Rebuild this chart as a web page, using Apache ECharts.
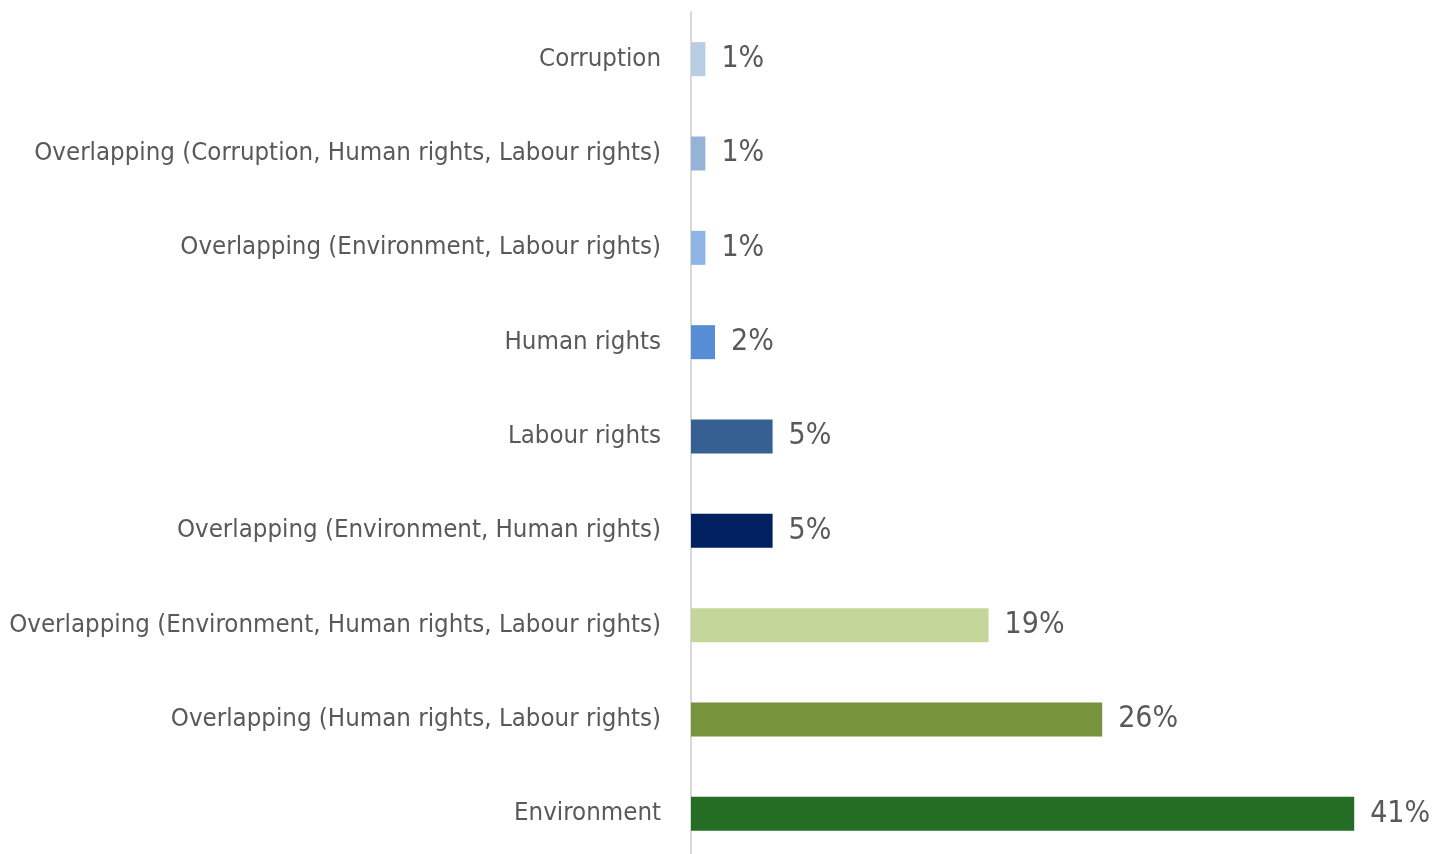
<!DOCTYPE html>
<html>
<head>
<meta charset="utf-8">
<script src="https://cdn.jsdelivr.net/npm/echarts@6/dist/echarts.min.js"></script>
<style>
html,body{margin:0;padding:0;background:#fff;}
#chart{width:1448px;height:854px;}
</style>
</head>
<body>
<div id="chart"></div>
<script>
const categories = [
  "Corruption",
  "Overlapping (Corruption, Human rights, Labour rights)",
  "Overlapping (Environment, Labour rights)",
  "Human rights",
  "Labour rights",
  "Overlapping (Environment, Human rights)",
  "Overlapping (Environment, Human rights, Labour rights)",
  "Overlapping (Human rights, Labour rights)",
  "Environment"
];
const values = [0.9, 0.9, 0.9, 1.5, 5.1, 5.1, 18.6, 25.7, 41.45];
const colors = ["#b8cce4", "#95b3d7", "#8db4e2", "#558ed5", "#366092", "#002060", "#c4d79b", "#77933c", "#256c24"];

const FONT = "'DejaVu Sans Condensed', 'Liberation Sans Narrow', sans-serif";
const chart = echarts.init(document.getElementById('chart'), null, {renderer: 'canvas'});
chart.setOption({
  animation: false,
  grid: {left: 691, top: 12, width: 720, bottom: -7, containLabel: false, outerBoundsMode: 'none'},
  xAxis: {type: 'value', min: 0, max: 45, show: false},
  yAxis: {
    type: 'category',
    data: categories,
    inverse: true,
    axisLine: {show: true, lineStyle: {color: '#d9d9d9', width: 2}},
    axisTick: {show: false},
    axisLabel: {color: '#595959', fontFamily: FONT, fontSize: 25.6, margin: 30}
  },
  series: [{
    type: 'bar',
    barWidth: 34,
    data: values.map((v, i) => ({value: v, itemStyle: {color: colors[i]}})),
    label: {
      show: true,
      position: 'right',
      distance: 16,
      color: '#595959',
      fontFamily: FONT,
      fontSize: 30,
      formatter: p => Math.round(p.value) + '%'
    }
  }]
});
</script>
</body>
</html>
